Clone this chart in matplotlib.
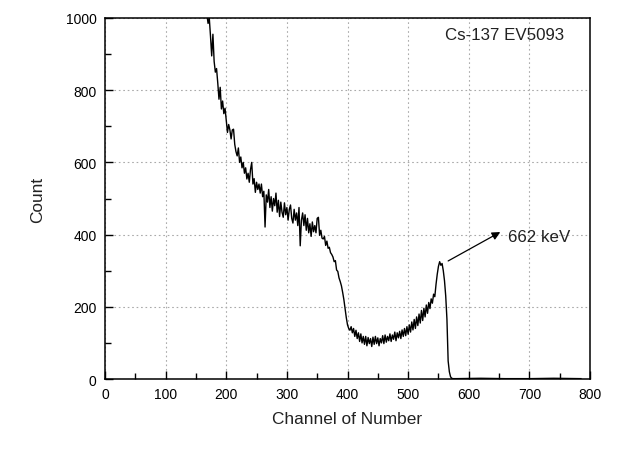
import matplotlib
matplotlib.use("Agg")
import matplotlib.pyplot as plt
from matplotlib.ticker import MultipleLocator

plt.rcParams['font.family'] = ['Liberation Sans', 'DejaVu Sans']

# counts every 2 channels, starting at channel 168
start_channel = 168
channel_step = 2
counts = [
    1010, 985, 1000, 950, 895, 955, 880, 850, 860, 820,   # 168
    775, 808, 748, 770, 735, 750, 715, 683, 705, 690,     # 188
    665, 690, 692, 650, 630, 618, 640, 600, 615, 585,     # 208
    600, 570, 585, 554, 570, 545, 580, 600, 540, 555,     # 228
    517, 545, 525, 540, 515, 540, 505, 520, 421, 510,     # 248
    490, 525, 475, 505, 465, 500, 480, 515, 462, 495,     # 268
    450, 490, 462, 448, 488, 455, 475, 440, 470, 482,     # 288
    445, 432, 470, 440, 460, 425, 475, 369, 440, 460,     # 308
    425, 455, 412, 445, 405, 430, 395, 435, 408, 425,     # 328
    405, 445, 448, 398, 412, 390, 388, 395, 370, 382,     # 348
    362, 365, 350, 345, 338, 325, 328, 302, 298, 280,     # 368
    270, 258, 240, 220, 194, 170, 150, 140, 135, 145,     # 388
    128, 140, 118, 135, 112, 128, 104, 125, 100, 118,     # 408
    96, 118, 92, 115, 98, 112, 90, 116, 96, 118,          # 428
    98, 114, 92, 112, 100, 120, 98, 122, 102, 118,        # 448
    106, 125, 104, 122, 110, 130, 106, 128, 114, 132,     # 468
    112, 136, 118, 140, 120, 145, 124, 150, 130, 158,     # 488
    136, 165, 140, 172, 148, 180, 155, 190, 162, 196,     # 508
    172, 205, 182, 212, 195, 222, 210, 235, 228, 262,     # 528
    290, 312, 325, 315, 320, 300, 272, 230, 166, 50,      # 548
    20, 6, 2, 1,                                          # 568
]
channels = [start_channel + channel_step * i for i in range(len(counts))]

# flat tail after the photopeak
tail_channels = [580, 620, 660, 700, 740, 785]
tail_counts = [1, 2, 1, 1, 2, 1]

fig = plt.figure(figsize=(6.28, 4.6), dpi=100)
ax = fig.add_axes([0.1672, 0.1739, 0.7723, 0.7848])

ax.plot(channels + tail_channels, counts + tail_counts, color='black', lw=1.0)

ax.set_xlim(0, 800)
ax.set_ylim(0, 1000)
ax.xaxis.set_major_locator(MultipleLocator(100))
ax.xaxis.set_minor_locator(MultipleLocator(50))
ax.yaxis.set_major_locator(MultipleLocator(200))
ax.yaxis.set_minor_locator(MultipleLocator(100))
ax.tick_params(which='both', direction='in', top=False, right=False,
               labelsize=10, pad=6, width=1)
ax.tick_params(which='major', length=6)
ax.tick_params(which='minor', length=4)
ax.grid(True, which='major', color='#aaaaaa', ls=(0, (1.5, 2.5)), lw=0.8)
for s in ax.spines.values():
    s.set_linewidth(1.1)

ax.set_xlabel('Channel of Number', fontsize=12.4, color='#222222', labelpad=7)
ax.set_ylabel('Count', fontsize=12.4, color='#222222', labelpad=15)

ax.text(757, 953, 'Cs-137 EV5093', fontsize=12.2, ha='right', va='center', color='#222222')
ax.annotate('', xy=(652, 407), xytext=(566, 327),
            arrowprops=dict(arrowstyle='-|>', color='black', lw=0.9,
                            mutation_scale=12, shrinkA=0, shrinkB=0))
ax.text(664, 394, '662 keV', fontsize=12.2, ha='left', va='center', color='#222222')

fig.savefig('out.png', dpi=100)
